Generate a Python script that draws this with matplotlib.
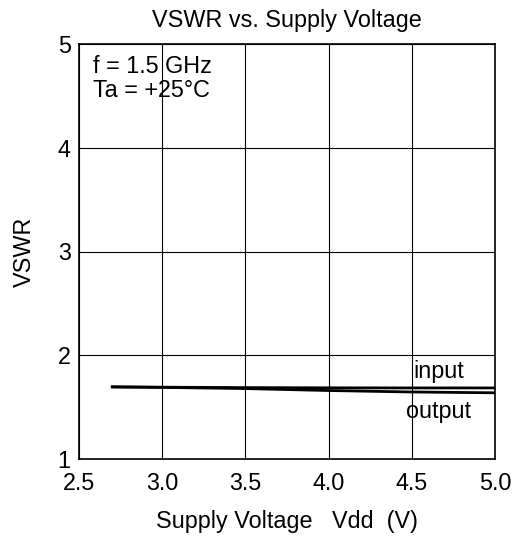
import matplotlib
matplotlib.use("Agg")
import matplotlib.pyplot as plt

plt.rcParams['font.family'] = ['Liberation Sans', 'DejaVu Sans']

vdd = [2.7, 3.0, 3.5, 4.0, 4.5, 5.0]
vswr_input = [1.695, 1.692, 1.688, 1.686, 1.685, 1.685]
vswr_output = [1.695, 1.690, 1.679, 1.660, 1.646, 1.638]
xticks = [2.5, 3.0, 3.5, 4.0, 4.5, 5.0]
yticks = [1, 2, 3, 4, 5]

FS = 16.8
fig = plt.figure(figsize=(5.17, 5.37), dpi=100)
ax = fig.add_axes([79/517, 1 - 459/537, (495-79)/517, (459-44)/537])
ax.plot(vdd, vswr_input, color='black', lw=2)
ax.plot(vdd, vswr_output, color='black', lw=2)
ax.set_xlim(2.5, 5.0)
ax.set_ylim(1, 5)
ax.set_xticks(xticks)
ax.set_xticklabels([f"{t:.1f}" for t in xticks])
ax.set_yticks(yticks)
ax.tick_params(length=0, labelsize=FS)
ax.tick_params(axis='x', pad=9)
ax.tick_params(axis='y', pad=6)
ax.grid(True, color='black', lw=0.8)
for s in ax.spines.values():
    s.set_linewidth(1.2)
ax.set_title("VSWR vs. Supply Voltage", fontsize=FS, pad=12)
ax.set_xlabel("Supply Voltage   Vdd  (V)", fontsize=FS, labelpad=11)
ax.set_ylabel("VSWR", fontsize=FS, labelpad=16)
ax.text(0.033, 0.93, "f = 1.5 GHz", transform=ax.transAxes,
        fontsize=FS, va='baseline', ha='left')
ax.text(0.033, 0.872, "Ta = +25°C", transform=ax.transAxes,
        fontsize=FS, va='baseline', ha='left')
ax.text(4.66, 1.785, "input", fontsize=FS, ha='center', va='baseline')
ax.text(4.66, 1.565, "output", fontsize=FS, ha='center', va='top')
fig.savefig("out.png", dpi=100)
